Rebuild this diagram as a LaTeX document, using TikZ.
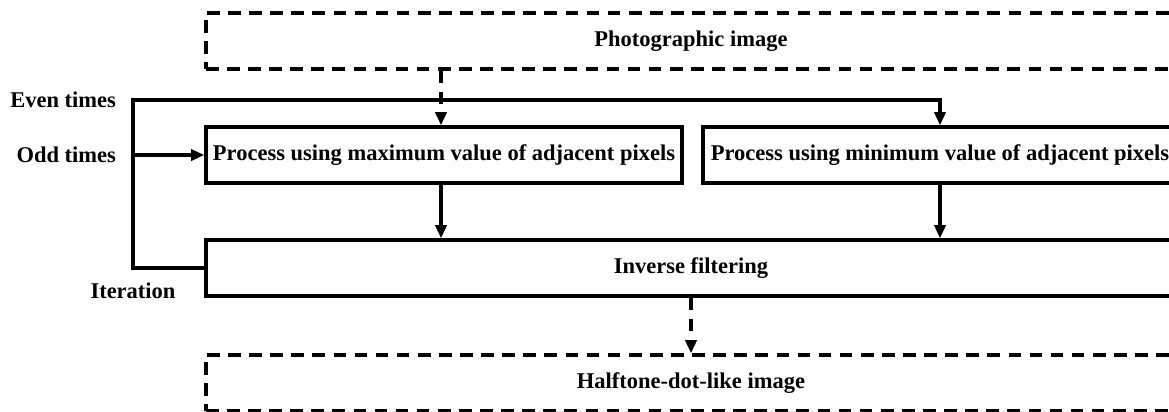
\documentclass[tikz,border=0pt]{standalone}
\usepackage{fontspec}
\setmainfont{Liberation Serif}
\usetikzlibrary{positioning,arrows.meta}

\begin{document}
\begin{tikzpicture}[
  x=0.025cm, y=0.025cm,
  font=\fontsize{16}{19}\selectfont\bfseries,
  box/.style={draw=black, line width=2.4pt, minimum height=1.4cm, inner sep=0pt},
  dbox/.style={box, dash pattern=on 9pt off 6pt},
  arr/.style={-{Triangle[length=3.3mm, width=2.8mm]}, line width=2.4pt},
  darr/.style={arr, dash pattern=on 9pt off 6pt},
  lbl/.style={inner sep=2pt}
]
\path[use as bounding box, clip] (0,0) rectangle (1169,412);
% ---------------- Boxes ----------------
\node[dbox, minimum width=24.25cm] (photo) at (691,371) {Photographic image};
\node[box, minimum width=11.9cm] (maxproc) at (444,257) {Process using maximum value of adjacent pixels};
\node[box, minimum width=11.85cm] (minproc) at (940,257) {Process using minimum value of adjacent pixels};
\node[box, minimum width=24.25cm] (inverse) at (691,144) {Inverse filtering};
\node[dbox, minimum width=24.25cm] (halftone) at (691,29) {Halftone-dot-like image};
% ---------------- Iteration loop ----------------
\coordinate (looptop) at (133,312);
\node[lbl, left=0.35cm of looptop] (even) {Even times};
\node[lbl, left=0.35cm of looptop |- maxproc.west] (odd) {Odd times};
\node[lbl] (iter) at (133,121) {Iteration};
\draw[arr] (inverse.west) -| (looptop) -| (minproc.north);
\draw[arr] (looptop |- maxproc.west) -- (maxproc.west);
% ---------------- Flow ----------------
\draw[darr] ([xshift=-0.075cm]maxproc.north |- photo.south) -- ([xshift=-0.075cm]maxproc.north);
\draw[arr] ([xshift=-0.075cm]maxproc.south) -- ([xshift=-0.075cm]maxproc.south |- inverse.north);
\draw[arr] (minproc.south) -- (minproc.south |- inverse.north);
\draw[darr] (inverse.south) -- (halftone.north);
\end{tikzpicture}
\end{document}
